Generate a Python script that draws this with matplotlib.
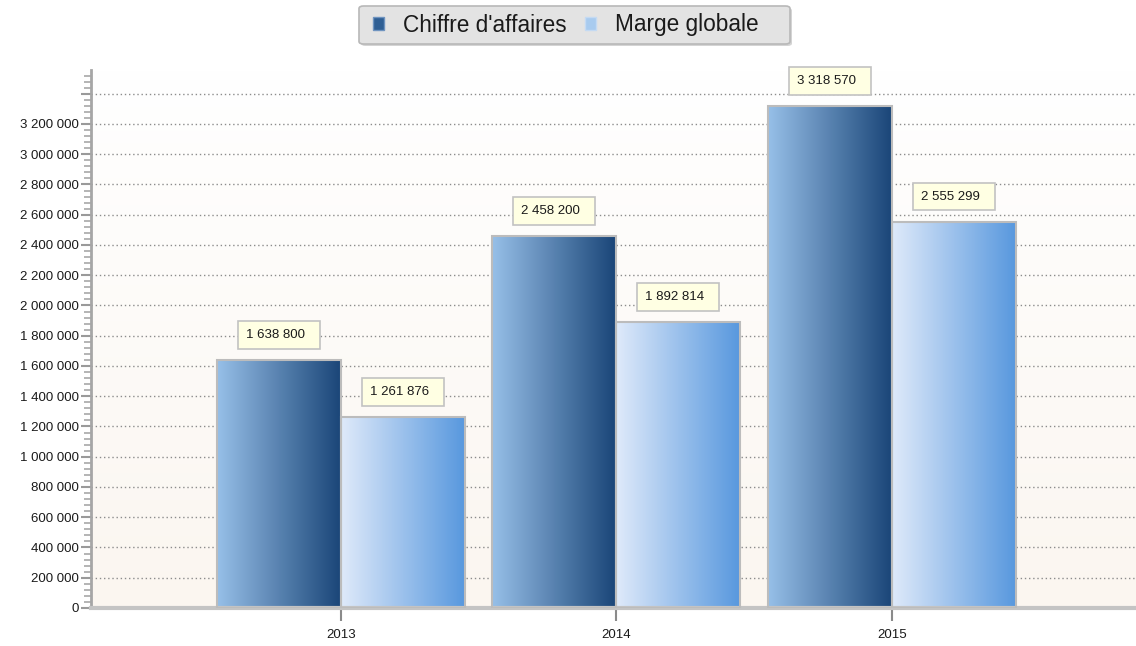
import numpy as np
import matplotlib.pyplot as plt
from matplotlib.colors import LinearSegmentedColormap
from matplotlib.patches import Patch, FancyBboxPatch
from matplotlib.ticker import MultipleLocator, FuncFormatter

plt.rcParams["font.family"] = ["Liberation Sans", "DejaVu Sans"]

years = ["2013", "2014", "2015"]
chiffre_affaires = [1638800, 2458200, 3318570]
marge_globale = [1261876, 1892814, 2555299]
series_names = ["Chiffre d'affaires", "Marge globale"]

# horizontal gradient per series: left colour -> right colour
series_colors = [("#97c0e8", "#1a4578"), ("#dfeafa", "#5898de")]


def fmt_space(v, pos=None):
    return f"{int(v):,}".replace(",", " ")


W, H = 1136, 646
fig = plt.figure(figsize=(W / 100, H / 100), dpi=100)
ax = fig.add_axes([91 / W, 38 / H, 1 - 91 / W, 538 / H])

# plot background: soft vertical gradient
bg = LinearSegmentedColormap.from_list("bg", ["#fbf6f0", "#ffffff"])
ax.imshow(np.linspace(0, 1, 256).reshape(-1, 1), cmap=bg, origin="lower",
          extent=(0, 1, 0, 1), transform=ax.transAxes, aspect="auto", zorder=0)

x = np.arange(len(years))
width = 0.45
grad = np.linspace(0, 1, 256).reshape(1, -1)

for i, (name, vals) in enumerate(zip(series_names, [chiffre_affaires, marge_globale])):
    cmap = LinearSegmentedColormap.from_list(name, series_colors[i])
    bars = ax.bar(x + (i - 0.5) * width, vals, width, facecolor="none",
                  edgecolor="#bcbcbc", linewidth=1.5, zorder=3)
    for b, v in zip(bars, vals):
        ax.imshow(grad, cmap=cmap, aspect="auto", zorder=2,
                  extent=(b.get_x(), b.get_x() + b.get_width(), 0, b.get_height()))
        ax.annotate(fmt_space(v) + "  ", xy=(b.get_x() + b.get_width() / 2, v),
                    xytext=(0, 25), textcoords="offset pixels",
                    ha="center", va="center", fontsize=9.5, color="#1a1a1a", zorder=5,
                    bbox=dict(boxstyle="square,pad=0.6", fc="#ffffe3", ec="#c2c2c2", lw=1.2))

ax.set_xlim(-0.907, 2.886)
ax.set_ylim(0, 3557000)

ax.yaxis.set_major_locator(MultipleLocator(200000))
ax.yaxis.set_minor_locator(MultipleLocator(40000))
ax.yaxis.set_major_formatter(FuncFormatter(lambda v, p: fmt_space(v) if v <= 3300000 else ""))
ax.tick_params(axis="y", which="major", direction="out", length=7, width=1.5,
               color="#9a9a9a", labelsize=9.5, labelcolor="#1a1a1a", pad=2)
ax.tick_params(axis="y", which="minor", direction="out", length=5, width=1.2, color="#a8a8a8")

ax.set_xticks(x)
ax.set_xticklabels(years)
ax.tick_params(axis="x", direction="out", length=9, width=1.5, color="#8a8a8a",
               labelsize=9.5, labelcolor="#1a1a1a", pad=6)

ax.yaxis.grid(True, linestyle=(0, (1, 2)), color="#8c8c8c", linewidth=1, zorder=1)
ax.set_axisbelow(True)

for s in ["top", "right"]:
    ax.spines[s].set_visible(False)
ax.spines["left"].set_color("#a6a6a6")
ax.spines["left"].set_linewidth(2)
ax.spines["bottom"].set_color("#c4c4c4")
ax.spines["bottom"].set_linewidth(3)

# legend frame drawn separately (padding is wider on the right than on the left)
x0, x1, y0, y1 = 359, 790, 6, 44
shadow = FancyBboxPatch(((x0 + 2) / W, 1 - (y1 + 2) / H), (x1 - x0) / W, (y1 - y0) / H,
                        boxstyle="round,pad=0,rounding_size=0.004", transform=fig.transFigure,
                        fc="#d4d4d4", ec="none", zorder=1)
frame = FancyBboxPatch((x0 / W, 1 - y1 / H), (x1 - x0) / W, (y1 - y0) / H,
                       boxstyle="round,pad=0,rounding_size=0.004", transform=fig.transFigure,
                       fc="#e3e3e3", ec="#b8b8b8", lw=1.2, zorder=2)
fig.patches.extend([shadow, frame])

handles = [Patch(facecolor="#2f5f94", edgecolor="#6f94c0"),
           Patch(facecolor="#a8cbef", edgecolor="#c4daf3")]
leg = fig.legend(handles, series_names, loc="center left",
                 bbox_to_anchor=(373 / W, 1 - 25 / H), ncol=2, fontsize=16.3,
                 frameon=False, handlelength=0.49, handleheight=0.49, handletextpad=0.84,
                 columnspacing=0.8, borderpad=0, borderaxespad=0)
leg.set_zorder(3)
for t in leg.get_texts():
    t.set_color("#1a1a1a")

fig.savefig("out.png", dpi=100)
